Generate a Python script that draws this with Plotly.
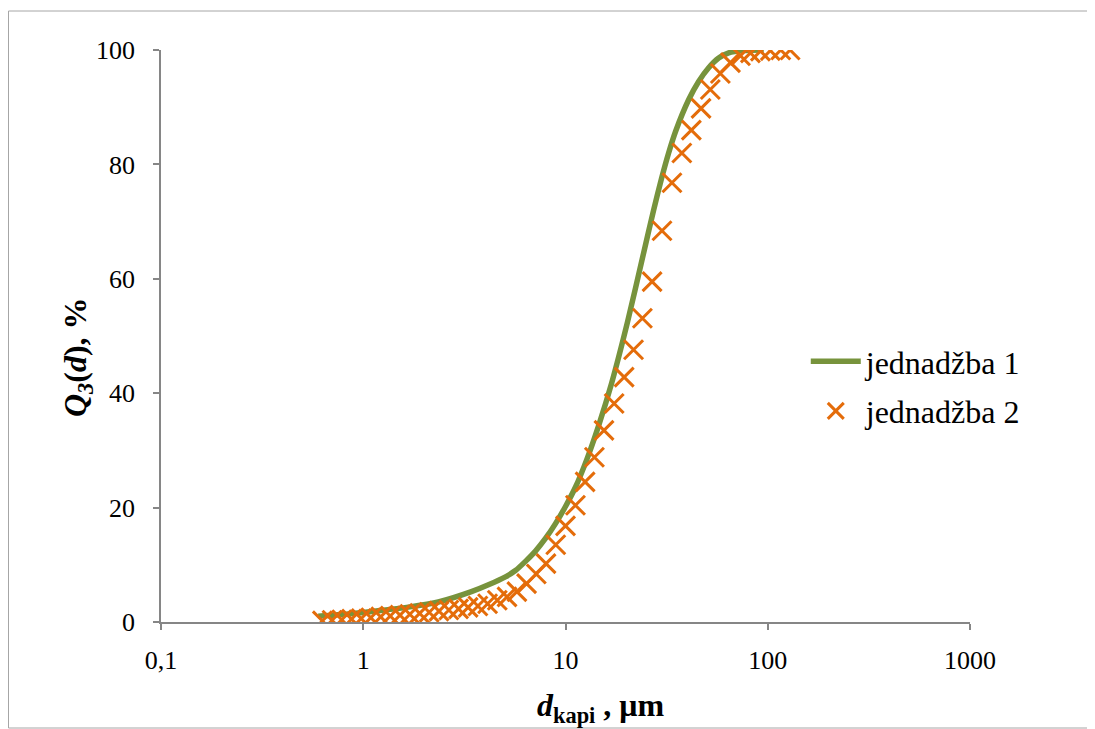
import plotly.graph_objects as go

# Curve "jednadžba 1"
line_d = [0.599, 0.843, 1.187, 1.670, 2.351, 3.425, 4.157, 5.047, 5.656, 6.339, 7.104,
          7.962, 8.923, 10.0, 11.21, 12.71, 14.57, 16.89, 20.28, 24.33, 27.27, 29.87,
          32.35, 35.04, 40.63, 45.54, 51.04, 57.20, 64.11, 76.06, 95.5]
line_q = [1.0, 1.4, 1.95, 2.6, 3.5, 5.3, 6.5, 7.9, 9.0, 10.6, 12.4,
          14.6, 17.2, 20.2, 23.6, 28.3, 34.3, 41.7, 52.5, 64.5, 72.0, 77.6,
          82.0, 85.8, 91.3, 94.5, 96.9, 98.6, 99.5, 99.9, 100.0]

# Points "jednadžba 2"
pts_d = [0.628, 0.701, 0.783, 0.875, 0.977, 1.09, 1.22, 1.36, 1.52, 1.70, 1.90, 2.12,
         2.37, 2.65, 2.96, 3.30, 3.69, 4.12, 4.60, 5.14, 5.75, 6.42, 7.17, 8.01, 8.95,
         10.0, 11.2, 12.5, 13.9, 15.5, 17.4, 19.5, 21.7, 24.0, 26.8, 30.0, 33.6, 37.6,
         41.9, 46.8, 52.0, 58.3, 65.4, 73.3, 82.1, 92.0, 103, 116, 129]
pts_q = [0.2, 0.3, 0.4, 0.5, 0.6, 0.75, 0.9, 1.05, 1.2, 1.35, 1.5, 1.7,
         1.9, 2.1, 2.3, 2.55, 2.8, 3.2, 3.8, 4.4, 5.3, 6.7, 8.4, 10.2, 13.5,
         16.8, 20.4, 24.5, 28.8, 33.5, 38.2, 42.8, 47.6, 53.1, 59.5, 68.4, 76.8, 82.0,
         86.0, 89.8, 93.1, 95.9, 97.8, 99.0, 99.5, 99.8, 99.9, 100, 100]

x_tickvals = [0.1, 1, 10, 100, 1000]
x_ticktext = ["0,1", "1", "10", "100", "1000"]
y_tickvals = [0, 20, 40, 60, 80, 100]

FONT = "Liberation Serif, Times New Roman, serif"
AXIS_COL = "#868686"
GREEN = "#77933C"
ORANGE = "#E46C0A"

fig = go.Figure()
fig.add_trace(go.Scatter(
    x=line_d, y=line_q, mode="lines", name="jednadžba 1",
    line=dict(color=GREEN, width=5.5, shape="spline", smoothing=0.6),
    legendgroup="a"))
fig.add_trace(go.Scatter(
    x=pts_d, y=pts_q, mode="markers", name="jednadžba 2",
    marker=dict(symbol="x-thin", size=19, color=ORANGE,
                line=dict(width=3, color=ORANGE)),
    legendgroup="b"))

axis_common = dict(
    showline=True, linecolor=AXIS_COL, linewidth=1.5,
    ticks="outside", ticklen=6, tickcolor=AXIS_COL, tickwidth=1.5,
    showgrid=False, zeroline=False,
    tickfont=dict(family=FONT, size=26, color="black"),
)

# page body has an 8px margin: figure is sized/positioned so the plot area
# lands at x 161..970, y 50..622 of the page
fig.update_layout(
    width=1087, height=721,
    margin=dict(l=153, r=125, t=42, b=107),
    paper_bgcolor="white", plot_bgcolor="white",
    font=dict(family=FONT, color="black"),
    xaxis=dict(type="log", range=[-1, 3], tickvals=x_tickvals, ticktext=x_ticktext,
               ticklabelstandoff=8, **axis_common),
    yaxis=dict(range=[0, 100], tickvals=y_tickvals, ticklabelstandoff=13, **axis_common),
    legend=dict(x=0.797, y=0.5035, xanchor="left", yanchor="top",
                font=dict(family=FONT, size=32, color="black"),
                itemwidth=50, tracegroupgap=5, bgcolor="rgba(0,0,0,0)"),
    showlegend=True,
)

fig.add_annotation(
    xref="paper", yref="paper", x=(600 - 161) / 809, y=(622 - 707) / 572,
    text="<b><i>d</i><sub>kapi</sub> , μm</b>", showarrow=False,
    font=dict(family=FONT, size=32, color="black"), xanchor="center", yanchor="middle")
fig.add_annotation(
    xref="paper", yref="paper", x=(77 - 161) / 809, y=(622 - 357) / 572,
    text="<b><i>Q</i><sub><i>3</i></sub>(<i>d</i>), %</b>", showarrow=False, textangle=-90,
    font=dict(family=FONT, size=32, color="black"), xanchor="center", yanchor="middle")

fig.add_shape(type="rect", xref="paper", yref="paper",
              x0=(8.5 - 161) / 809, x1=(1090 - 161) / 809,
              y0=(622 - 728) / 572, y1=(622 - 11) / 572,
              line=dict(color="#A6A6A6", width=1), fillcolor="rgba(0,0,0,0)", layer="below")

fig.write_html("out.html")
